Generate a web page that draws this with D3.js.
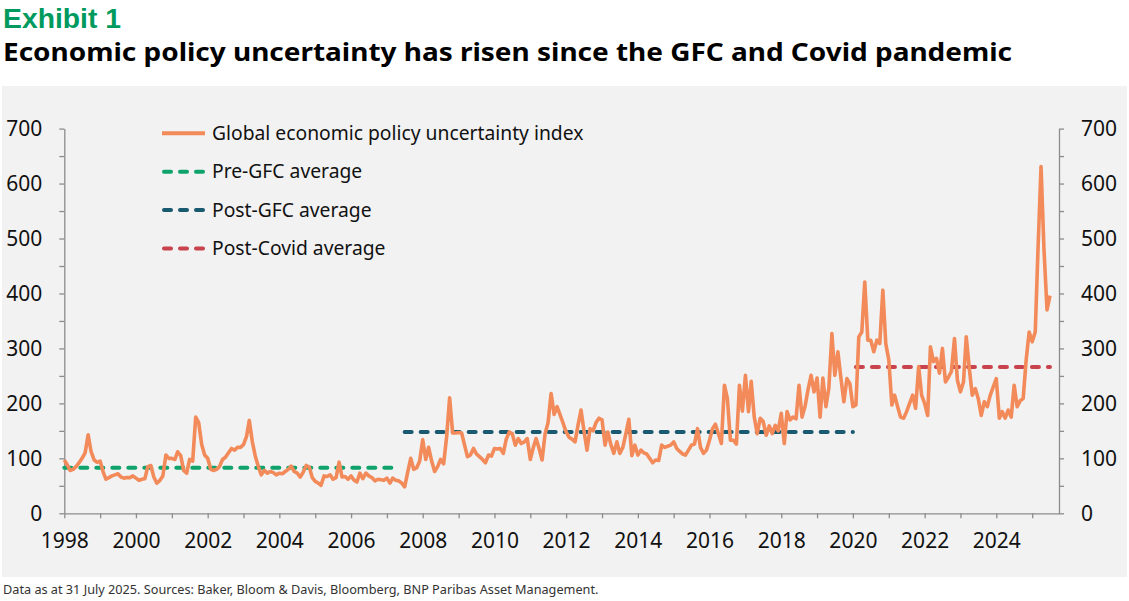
<!DOCTYPE html>
<html>
<head>
<meta charset="utf-8">
<script src="https://cdn.jsdelivr.net/npm/d3@7"></script>
<style>
  body { margin: 0; background: #fff; }
  svg { display: block; }
  .tick text { font-family: "Noto Sans", sans-serif; font-size: 21px; fill: #111; }
  .axis path, .axis line { stroke: #8c8c8c; stroke-width: 1.3; }
</style>
</head>
<body>
<div id="chart"></div>
<script>
const width = 1129, height = 601;

// monthly index values, Jan 1998 - Jul 2025
const epu = [
  97, 88, 78, 80, 85, 92, 100, 110, 143, 112, 97, 93,      // 1998
  95, 75, 62, 65, 68, 70, 72, 66, 64, 65, 65, 68,          // 1999
  64, 60, 62, 63, 85, 87, 66, 55, 60, 68, 106, 100,        // 2000
  100, 98, 112, 105, 78, 73, 98, 95, 175, 165, 125, 106,   // 2001
  100, 80, 78, 80, 85, 98, 102, 110, 118, 115, 120, 120,   // 2002
  125, 140, 169, 130, 104, 85, 70, 78, 73, 76, 74, 70,     // 2003
  73, 72, 76, 80, 86, 76, 73, 66, 75, 87, 84, 65,          // 2004
  58, 55, 51, 68, 67, 70, 62, 65, 93, 66, 67, 62,          // 2005
  68, 60, 57, 73, 63, 73, 68, 65, 59, 62, 61, 60,          // 2006
  64, 55, 64, 60, 59, 55, 48, 75, 100, 80, 83, 95,         // 2007
  134, 98, 120, 95, 76, 85, 98, 90, 140, 210, 146, 146,    // 2008
  147, 146, 125, 103, 106, 118, 108, 103, 98, 92, 106, 104, // 2009
  118, 117, 118, 109, 135, 148, 145, 124, 136, 127, 130, 136, // 2010
  98, 120, 136, 118, 97, 145, 165, 218, 180, 194, 179, 164, // 2011
  148, 138, 135, 130, 160, 188, 150, 115, 154, 150, 165, 173, // 2012
  170, 124, 148, 125, 109, 130, 109, 120, 145, 171, 105, 124, // 2013
  106, 115, 110, 108, 100, 92, 97, 96, 124, 120, 122, 124,  // 2014
  130, 118, 113, 108, 106, 115, 124, 126, 154, 120, 109, 115, // 2015
  133, 154, 162, 145, 127, 233, 209, 133, 133, 126, 233, 186, // 2016
  251, 185, 240, 175, 145, 173, 167, 142, 159, 145, 160, 150, // 2017
  182, 127, 185, 170, 175, 172, 233, 175, 195, 225, 251, 221, // 2018
  246, 175, 246, 194, 228, 327, 251, 294, 246, 203, 245, 236, // 2019
  194, 197, 321, 330, 421, 315, 315, 294, 315, 309, 406, 309, // 2020
  279, 197, 215, 194, 175, 173, 185, 200, 215, 191, 267, 215, // 2021
  200, 178, 303, 276, 282, 255, 300, 239, 248, 258, 318, 242, // 2022
  221, 239, 321, 264, 215, 227, 209, 178, 203, 194, 215, 230, // 2023
  245, 173, 185, 173, 188, 175, 233, 194, 205, 209, 280, 330, // 2024
  312, 330, 480, 631, 480, 370, 396                         // 2025
];

// period averages: value, first and last month index (0 = Jan 1998)
const avgNames  = ["Pre-GFC average", "Post-GFC average", "Post-Covid average"];
const avgValues = [83, 148, 266];
const avgFrom   = [0, 114, 265];
const avgTo     = [112, 264, 330];
const avgColors = ["#0fa36b", "#1a5a70", "#c8434b"];

const lineColor = "#f28a5a";
const yTicks = d3.range(0, 701, 50);

const monthDate = i => new Date(1998, i, 1);
const data = epu.map((v, i) => ({date: monthDate(i), value: v}));

const x = d3.scaleTime()
  .domain([new Date(1998, 0, 1), new Date(2025, 9, 1)])
  .range([64.3, 1059]);
const y = d3.scaleLinear()
  .domain([0, 700])
  .range([513.3, 128.6]);

const svg = d3.select("#chart").append("svg")
  .attr("width", width).attr("height", height);

// titles
svg.append("text")
  .attr("x", 3).attr("y", 28)
  .attr("font-family", "Liberation Sans, Arial, sans-serif").attr("font-weight", 700)
  .attr("font-size", 28).attr("fill", "#009a5e")
  .attr("textLength", 118).attr("lengthAdjust", "spacingAndGlyphs")
  .text("Exhibit 1");
svg.append("text")
  .attr("x", 3).attr("y", 61.2)
  .attr("font-family", "Noto Sans, sans-serif").attr("font-weight", 700)
  .attr("font-size", 25.5).attr("fill", "#000")
  .attr("textLength", 1009).attr("lengthAdjust", "spacingAndGlyphs")
  .text("Economic policy uncertainty has risen since the GFC and Covid pandemic");

// panel
svg.append("rect")
  .attr("x", 2).attr("y", 86).attr("width", 1125).attr("height", 491)
  .attr("fill", "#f2f2f2");

// axes
svg.append("g").attr("class", "axis")
  .attr("transform", `translate(0,${y(0)})`)
  .call(d3.axisBottom(x)
    .ticks(d3.timeYear.every(1))
    .tickFormat(d => d.getFullYear() % 2 === 0 ? d.getFullYear() : "")
    .tickSize(5).tickSizeOuter(0).tickPadding(15));

svg.append("g").attr("class", "axis")
  .attr("transform", `translate(${x.range()[0]},0)`)
  .call(d3.axisLeft(y).tickValues(yTicks)
    .tickFormat(d => d % 100 === 0 ? d : "")
    .tickSize(5).tickSizeOuter(0).tickPadding(17));

svg.append("g").attr("class", "axis")
  .attr("transform", `translate(${x.range()[1]},0)`)
  .call(d3.axisRight(y).tickValues(yTicks)
    .tickFormat(d => d % 100 === 0 ? d : "")
    .tickSize(5).tickSizeOuter(0).tickPadding(17));

// average lines
avgValues.forEach((v, k) => {
  svg.append("line")
    .attr("x1", x(monthDate(avgFrom[k]))).attr("x2", x(monthDate(avgTo[k])))
    .attr("y1", y(v)).attr("y2", y(v))
    .attr("stroke", avgColors[k]).attr("stroke-width", 4)
    .attr("stroke-dasharray", "7,9").attr("stroke-linecap", "round");
});

// index line
const line = d3.line()
  .x(d => x(d.date))
  .y(d => y(d.value));
svg.append("path")
  .datum(data)
  .attr("d", line)
  .attr("fill", "none")
  .attr("stroke", lineColor).attr("stroke-width", 3.6)
  .attr("stroke-linejoin", "round");

// legend
const legendNames = ["Global economic policy uncertainty index"].concat(avgNames);
const legendColors = [lineColor].concat(avgColors);
legendNames.forEach((name, k) => {
  const ly = 133.3 + k * 38.4;
  const g = svg.append("g");
  g.append("line")
    .attr("x1", k === 0 ? 162 : 164).attr("x2", k === 0 ? 205 : 203)
    .attr("y1", ly).attr("y2", ly)
    .attr("stroke", legendColors[k]).attr("stroke-width", 4)
    .attr("stroke-dasharray", k === 0 ? null : "7,9")
    .attr("stroke-linecap", k === 0 ? "butt" : "round");
  g.append("text")
    .attr("x", 212).attr("y", ly).attr("dy", "0.35em")
    .attr("font-family", "Noto Sans, sans-serif").attr("font-size", 19.3)
    .attr("fill", "#111")
    .text(name);
});

// footnote
svg.append("text")
  .attr("x", 3).attr("y", 594)
  .attr("font-family", "Noto Sans, sans-serif").attr("font-size", 12.7)
  .attr("fill", "#333")
  .text("Data as at 31 July 2025. Sources: Baker, Bloom & Davis, Bloomberg, BNP Paribas Asset Management.");
</script>
</body>
</html>
